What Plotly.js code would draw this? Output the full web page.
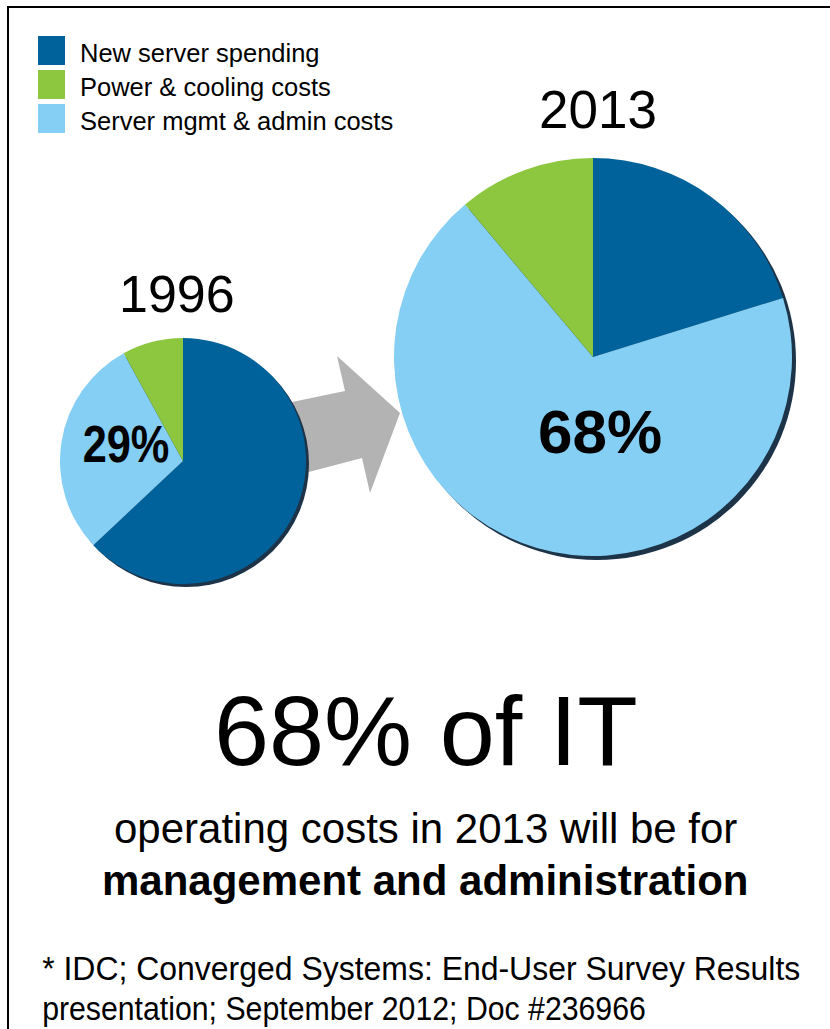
<!DOCTYPE html>
<html>
<head>
<meta charset="utf-8">
<script src="https://cdn.plot.ly/plotly-3.0.1.min.js"></script>
<style>html,body{margin:0;padding:0;background:#fff;}#chart{width:830px;height:1029px;}</style>
</head>
<body>
<div id="chart"></div>
<script>
// ---- data ----
var categories = ["New server spending", "Power & cooling costs", "Server mgmt & admin costs"];
var colors = ["#00629B", "#8DC63F", "#84CFF3"];
var years = ["1996", "2013"];
var values1996 = [63, 8, 29];
var values2013 = [20, 11, 68];
var headline = "68% of IT";
var subline1 = "operating costs in 2013 will be for";
var subline2 = "management and administration";
var footnote1 = "* IDC; Converged Systems: End-User Survey Results";
var footnote2 = "presentation; September 2012; Doc #236966";

// ---- helpers (pixel -> paper) ----
var W = 830, H = 1029;
function px(x) { return x / W; }
function py(y) { return 1 - y / H; }
// pie drawing order: clockwise from 12 o'clock -> new server, mgmt, power
var order = [0, 2, 1];
function pick(arr) { return order.map(function (i) { return arr[i]; }); }

var pies = [
  {cx: 183, cy: 461, r: 123, vals: values1996},
  {cx: 593, cy: 357, r: 199, vals: values2013}
];

var traces = pies.map(function (p, k) {
  return {
    type: "pie",
    name: years[k],
    labels: pick(categories),
    values: pick(p.vals),
    marker: {colors: pick(colors), line: {width: 0}},
    sort: false,
    direction: "clockwise",
    rotation: 0,
    textinfo: "none",
    hoverinfo: "label+percent",
    showlegend: false,
    domain: {x: [px(p.cx - p.r), px(p.cx + p.r)], y: [py(p.cy + p.r), py(p.cy - p.r)]}
  };
});

var shapes = [];
// frame
shapes.push({type: "rect", xref: "paper", yref: "paper", x0: px(8), x1: 1.05, y0: -0.05, y1: py(7),
  line: {color: "#000", width: 2}, fillcolor: "rgba(0,0,0,0)", layer: "below"});
// arrow
var arrowPts = [[292, 402], [345, 391], [337, 356], [400, 413], [370, 493], [362, 458], [305, 473]];
shapes.push({type: "path", xref: "paper", yref: "paper",
  path: "M" + arrowPts.map(function (q) { return px(q[0]) + "," + py(q[1]); }).join("L") + "Z",
  fillcolor: "#B3B3B3", line: {width: 0}, layer: "below"});
// pie shadows
pies.forEach(function (p) {
  var o = p.r > 150 ? 4 : 3;
  shapes.push({type: "circle", xref: "paper", yref: "paper",
    x0: px(p.cx - p.r + o), x1: px(p.cx + p.r + o), y0: py(p.cy + p.r + o), y1: py(p.cy - p.r + o),
    fillcolor: "#1d3347", line: {width: 0}, layer: "below"});
});
// legend squares
var annotations = [];
categories.forEach(function (c, i) {
  var top = 36 + i * 34;
  shapes.push({type: "rect", xref: "paper", yref: "paper",
    x0: px(38), x1: px(65), y0: py(top + 29), y1: py(top),
    fillcolor: colors[i], line: {width: 0}});
  annotations.push({xref: "paper", yref: "paper", x: px(78), y: py(top + 17), xanchor: "left", yanchor: "middle",
    text: c, showarrow: false, font: {family: "Liberation Sans, Arial, sans-serif", size: 25.5, color: "#000"}});
});

function txt(x, y, t, size, opts) {
  opts = opts || {};
  return {xref: "paper", yref: "paper", x: px(x), y: py(y), xanchor: opts.xa || "center", yanchor: "middle",
    text: t, showarrow: false,
    font: {family: "Liberation Sans, Arial, sans-serif", size: size, color: "#000", weight: opts.weight || "normal"}};
}

annotations.push(txt(177, 294, years[0], 52));                              // 3
annotations.push(txt(598, 109, years[1], 53));                              // 4
annotations.push(txt(126, 444, values1996[2] + "%", 51, {weight: "bold"})); // 5
annotations.push(txt(600, 432, values2013[2] + "%", 62, {weight: "bold"})); // 6
annotations.push(txt(426, 730, headline, 99));                              // 7
annotations.push(txt(425, 828, subline1, 42));                              // 8
annotations.push(txt(425, 880, subline2, 42, {weight: "bold"}));            // 9
annotations.push(txt(40, 968, footnote1, 34, {xa: "left"}));                // 10
annotations.push(txt(40, 1008, footnote2, 34, {xa: "left"}));               // 11

// horizontal condensing to mimic the narrow face of the original
var squeeze = [[5, 0.85, "center"], [10, 0.94, "left"], [11, 0.89, "left"]];

var layout = {
  width: W, height: H,
  margin: {l: 0, r: 0, t: 0, b: 0, pad: 0},
  paper_bgcolor: "#fff", plot_bgcolor: "#fff",
  showlegend: false,
  shapes: shapes,
  annotations: annotations
};

Plotly.newPlot("chart", traces, layout, {displayModeBar: false, staticPlot: true}).then(function () {
  squeeze.forEach(function (s) {
    var g = document.querySelector('#chart .annotation[data-index="' + s[0] + '"]');
    if (!g) return;
    var t = g.querySelector("text");
    if (!t) return;
    t.style.transformBox = "fill-box";
    t.style.transformOrigin = s[2] + " center";
    t.style.transform = "scaleX(" + s[1] + ")";
  });
});
</script>
</body>
</html>
